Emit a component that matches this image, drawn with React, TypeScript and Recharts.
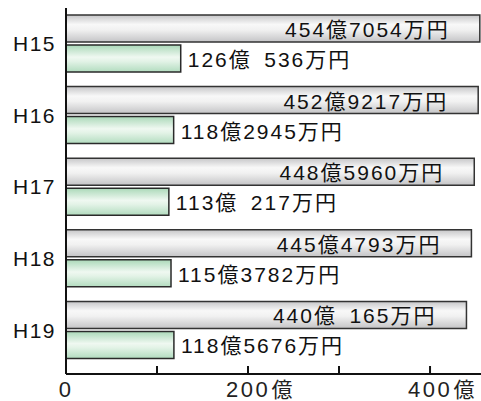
import { Bar, BarChart, LabelList, XAxis, YAxis } from "recharts";

// 年度
const years = ["H15", "H16", "H17", "H18", "H19"];
// 万円単位
const totalMan = [4547054, 4529217, 4485960, 4454793, 4400165];
const partMan = [1260536, 1182945, 1130217, 1153782, 1185676];
const xTicks = [0, 100, 200, 300, 400];
const xLabelTicks = [0, 200, 400];

const FONT = "'Liberation Sans', Arial, 'Noto Sans CJK JP', sans-serif";

const fmt = (man: number) => {
    const oku = Math.floor(man / 10000);
    const m = man % 10000;
    const rest = m < 1000 ? `\u2002${m}` : String(m);
    return `${oku}億${rest}万円`;
};

const data = years.map((name, i) => ({
    name,
    total: totalMan[i] / 10000,
    part: partMan[i] / 10000,
    totalLabel: fmt(totalMan[i]),
    partLabel: fmt(partMan[i]),
}));

const XTick = (props: any) => {
    const { x, y, payload } = props;
    const v = payload.value as number;
    const num = String(v);
    const half = (num.length * 15) / 2;
    return (
        <g>
            {v !== 0 && <line x1={x} x2={x} y1={y} y2={y - 8} stroke="#111" strokeWidth={2} />}
            {xLabelTicks.includes(v) && (
                <>
                    <text x={x} y={y + 23} textAnchor="middle" fontSize={22} letterSpacing={2.5} fill="#222" fontFamily={FONT}>
                        {num}
                    </text>
                    {v !== 0 && (
                        <text x={x + half + 1} y={y + 23} textAnchor="start" fontSize={21} fill="#222" fontFamily={FONT}>
                            億
                        </text>
                    )}
                </>
            )}
        </g>
    );
};

const TotalLabel = (props: any) => {
    const { x, y, width, height, value } = props;
    return (
        <text
            x={x + width - 30}
            y={y + height / 2 + 1}
            textAnchor="end"
            dominantBaseline="central"
            fontSize={21}
            letterSpacing={2}
            fill="#111"
            fontFamily={FONT}
        >
            {value}
        </text>
    );
};

const PartLabel = (props: any) => {
    const { x, y, width, height, value } = props;
    return (
        <text
            x={x + width + 7}
            y={y + height / 2 + 1}
            textAnchor="start"
            dominantBaseline="central"
            fontSize={21}
            letterSpacing={2}
            fill="#111"
            fontFamily={FONT}
        >
            {value}
        </text>
    );
};

export default function App() {
    return (
        <div style={{ position: "absolute", left: 0, top: 0, background: "#fff" }}>
            <BarChart
                width={481}
                height={401}
                data={data}
                layout="vertical"
                margin={{ top: 8, right: 0, left: 0, bottom: 0 }}
                barGap={3}
                barSize={27}
            >
                <defs>
                    <linearGradient id="grayGrad" x1="0" y1="0" x2="0" y2="1">
                        <stop offset="0%" stopColor="#c6c6c8" />
                        <stop offset="35%" stopColor="#f8f8f8" />
                        <stop offset="55%" stopColor="#f1f1f1" />
                        <stop offset="100%" stopColor="#c4c4c6" />
                    </linearGradient>
                    <linearGradient id="greenGrad" x1="0" y1="0" x2="0" y2="1">
                        <stop offset="0%" stopColor="#aad8b8" />
                        <stop offset="45%" stopColor="#eff8f1" />
                        <stop offset="60%" stopColor="#e3f3e7" />
                        <stop offset="100%" stopColor="#b2dcbf" />
                    </linearGradient>
                </defs>
                <XAxis
                    type="number"
                    domain={[0, 456]}
                    ticks={xTicks}
                    interval={0}
                    height={27}
                    tickSize={0}
                    tickMargin={0}
                    axisLine={{ stroke: "#111", strokeWidth: 2 }}
                    tickLine={false}
                    tick={<XTick />}
                    allowDataOverflow
                />
                <YAxis
                    type="category"
                    dataKey="name"
                    width={66}
                    tickSize={0}
                    tickMargin={10}
                    padding={{ top: 0, bottom: 8 }}
                    axisLine={{ stroke: "#111", strokeWidth: 2 }}
                    tickLine={false}
                    tick={{ fontSize: 21, fill: "#111", fontFamily: FONT, letterSpacing: 1.5 }}
                />
                <Bar dataKey="total" fill="url(#grayGrad)" stroke="#333" strokeWidth={1.5} isAnimationActive={false}>
                    <LabelList dataKey="totalLabel" content={<TotalLabel />} />
                </Bar>
                <Bar dataKey="part" fill="url(#greenGrad)" stroke="#2a2a2a" strokeWidth={1.5} isAnimationActive={false}>
                    <LabelList dataKey="partLabel" content={<PartLabel />} />
                </Bar>
            </BarChart>
        </div>
    );
}
